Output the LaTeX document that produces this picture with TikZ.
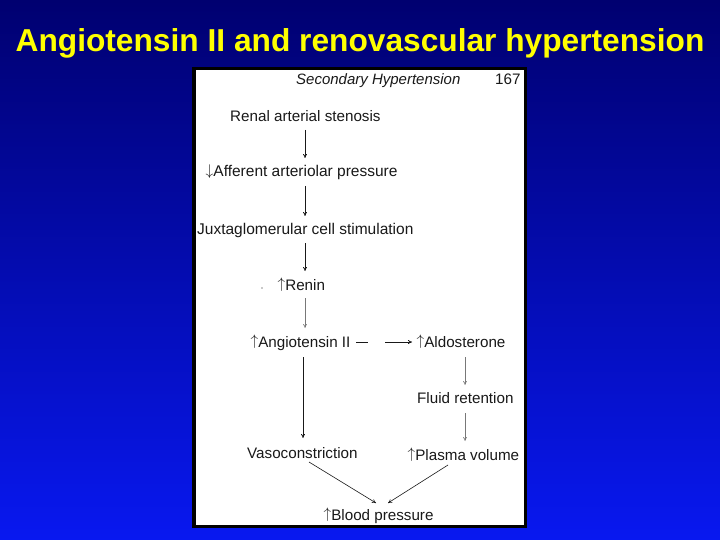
\RequirePackage{fix-cm}
\documentclass[tikz,border=0pt]{standalone}
\usepackage{fontspec}
\setmainfont{Liberation Sans}
\usetikzlibrary{arrows.meta}
\definecolor{bgtop}{RGB}{0,0,112}
\definecolor{bgbot}{RGB}{8,24,240}
\definecolor{ink}{RGB}{25,25,25}
\definecolor{faint}{RGB}{120,120,120}
\definecolor{titley}{RGB}{255,255,0}
\newcommand{\uparr}{\raisebox{1.8pt}{$\uparrow$}}
\newcommand{\dnarr}{\raisebox{1.2pt}{$\downarrow$}}
\tikzset{
  lbl/.style={font=\fontsize{15.2}{17}\selectfont, text=ink, inner sep=0pt, anchor=base west},
  flow/.style={draw=ink, line width=0.8pt, -{To[length=4pt,width=4pt]}},
  flowthin/.style={draw=faint, line width=0.6pt, -{To[length=4pt,width=4pt]}},
}
\begin{document}
\begin{tikzpicture}[x=1pt,y=-1pt]
\useasboundingbox (0,0) rectangle (720,540);
\shade[top color=bgtop, bottom color=bgbot] (0,0) rectangle (720,540);
\node[font=\bfseries\fontsize{31.7}{34}\selectfont, text=titley, inner sep=0pt, anchor=base] (title) at (360,52) {Angiotensin II and renovascular hypertension};
\draw[fill=white, draw=black, line width=3.5pt] (193.75,68.75) rectangle (525.25,526.25);
\node[lbl, font=\itshape\fontsize{15}{17}\selectfont] (hdr) at (296,85) {Secondary Hypertension};
\node[lbl] (page) at (495,85) {167};
\node[lbl] (ras) at (230,122) {Renal arterial stenosis};
\node[lbl, font=\fontsize{15.5}{17}\selectfont] (aap) at (205.5,177) {\dnarr Afferent arteriolar pressure};
\node[lbl, font=\fontsize{15.5}{17}\selectfont] (jcs) at (197,234) {Juxtaglomerular cell stimulation};
\node[lbl] (ren) at (277.5,290) {\uparr Renin};
\node[circle, fill=ink, inner sep=0.5pt] (dot) at (262,288) {};
\node[lbl] (ang) at (250.5,347) {\uparr Angiotensin II};
\node[lbl] (ald) at (416.5,347) {\uparr Aldosterone};
\node[lbl] (flu) at (417,403) {Fluid retention};
\node[lbl] (vas) at (247,458) {Vasoconstriction};
\node[lbl] (pla) at (407.5,460) {\uparr Plasma volume};
\node[lbl] (bp) at (323.5,520) {\uparr Blood pressure};
% connector end points
\coordinate (c1a) at (305,130); \coordinate (c1b) at (305,158);
\coordinate (c2a) at (305,186); \coordinate (c2b) at (305,216);
\coordinate (c3a) at (305,243); \coordinate (c3b) at (305,271);
\coordinate (c4a) at (305,298); \coordinate (c4b) at (305,328);
\coordinate (d1a) at (356,342); \coordinate (d1b) at (368,342);
\coordinate (d2a) at (385,342); \coordinate (d2b) at (412,342);
\coordinate (e1a) at (303,357); \coordinate (e1b) at (303,438);
\coordinate (f1a) at (465,357); \coordinate (f1b) at (465,385);
\coordinate (f2a) at (465,413); \coordinate (f2b) at (465,441);
\coordinate (g1a) at (309,462); \coordinate (g1b) at (376,503);
\coordinate (g2a) at (448,465); \coordinate (g2b) at (388,503);
\draw[flow] (c1a) -- (c1b);
\draw[flow] (c2a) -- (c2b);
\draw[flow] (c3a) -- (c3b);
\draw[flowthin] (c4a) -- (c4b);
\draw[draw=ink, line width=0.8pt] (d1a) -- (d1b);
\draw[flow] (d2a) -- (d2b);
\draw[flow] (e1a) -- (e1b);
\draw[flowthin] (f1a) -- (f1b);
\draw[flowthin] (f2a) -- (f2b);
\draw[flow, line width=0.6pt] (g1a) -- (g1b);
\draw[flow, line width=0.6pt] (g2a) -- (g2b);
\end{tikzpicture}
\end{document}
